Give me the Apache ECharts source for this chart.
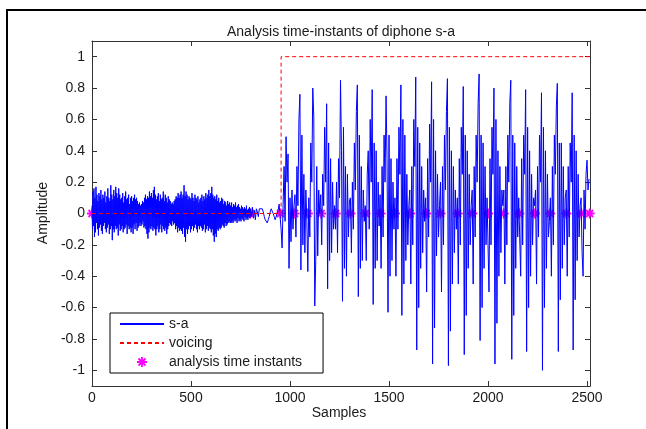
<!DOCTYPE html>
<html>
<head>
<meta charset="utf-8">
<script src="https://cdn.jsdelivr.net/npm/echarts@6/dist/echarts.min.js"></script>
<style>
html,body{margin:0;padding:0;background:#fff;}
#chart{width:646px;height:429px;}
</style>
</head>
<body>
<div id="chart"></div>
<script>
const xTicks = [0, 500, 1000, 1500, 2000, 2500];
const yTicks = [-1, -0.8, -0.6, -0.4, -0.2, 0, 0.2, 0.4, 0.6, 0.8, 1];
const lastSample = 2515;

// unvoiced noise (samples 0..797.5, every 2.5 samples)
const unvoicedStart = 0, unvoicedStep = 2.5;
const unvoicedValues = [
  0.05,-0.1,0.14,-0.08,0.16,-0.15,0.1,-0.12,0.17,-0.06,0.12,-0.1,0.08,-0.14,0.13,-0.09,0.11,-0.07,0.15,-0.11,
  0.09,-0.13,0.12,-0.08,0.1,-0.06,0.14,-0.1,0.07,-0.12,0.11,-0.09,0.16,-0.07,0.1,-0.13,0.08,-0.1,0.18,-0.08,
  0.12,-0.17,0.09,-0.1,0.15,-0.12,0.11,-0.08,0.17,-0.1,0.13,-0.09,0.1,-0.14,0.16,-0.07,0.12,-0.11,0.09,-0.1,
  0.1,-0.08,0.13,-0.12,0.07,-0.1,0.11,-0.09,0.14,-0.07,0.09,-0.13,0.1,-0.08,0.12,-0.1,0.06,-0.09,0.1,-0.12,
  0.11,-0.09,0.08,-0.13,0.1,-0.07,0.12,-0.1,0.09,-0.06,0.1,-0.11,0.08,-0.09,0.06,-0.08,0.07,-0.06,0.05,-0.08,
  0.06,-0.07,0.08,-0.05,0.07,-0.09,0.1,-0.08,0.12,-0.1,0.09,-0.13,0.11,-0.16,0.1,-0.12,0.14,-0.09,0.11,-0.1,
  0.13,-0.08,0.1,-0.11,0.15,-0.09,0.17,-0.1,0.12,-0.14,0.09,-0.1,0.11,-0.08,0.13,-0.12,0.08,-0.1,0.12,-0.07,
  0.09,-0.12,0.1,-0.08,0.14,-0.1,0.08,-0.11,0.12,-0.09,0.1,-0.13,0.07,-0.1,0.11,-0.08,0.09,-0.06,0.08,-0.07,
  0.06,-0.08,0.07,-0.05,0.06,-0.07,0.08,-0.06,0.09,-0.1,0.11,-0.08,0.1,-0.12,0.13,-0.09,0.1,-0.11,0.12,-0.1,
  0.14,-0.11,0.1,-0.13,0.12,-0.09,0.18,-0.15,0.11,-0.18,0.14,-0.1,0.12,-0.13,0.09,-0.1,0.11,-0.08,0.1,-0.12,
  0.09,-0.1,0.13,-0.08,0.1,-0.11,0.08,-0.09,0.12,-0.07,0.1,-0.1,0.09,-0.12,0.11,-0.08,0.07,-0.1,0.09,-0.08,
  0.1,-0.09,0.12,-0.11,0.08,-0.1,0.11,-0.07,0.09,-0.12,0.13,-0.1,0.1,-0.08,0.12,-0.11,0.15,-0.09,0.11,-0.1,
  0.13,-0.12,0.17,-0.1,0.12,-0.14,0.1,-0.18,0.11,-0.13,0.09,-0.15,0.12,-0.1,0.08,-0.11,0.1,-0.09,0.07,-0.1,
  0.08,-0.09,0.1,-0.07,0.09,-0.08,0.06,-0.09,0.08,-0.06,0.07,-0.08,0.05,-0.07,0.08,-0.06,0.06,-0.05,0.07,-0.06,
  0.05,-0.06,0.07,-0.05,0.04,-0.06,0.06,-0.04,0.05,-0.05,0.07,-0.04,0.04,-0.06,0.05,-0.03,0.06,-0.05,0.04,-0.04,
  0.03,-0.05,0.05,-0.03,0.04,-0.04,0.03,-0.05,0.04,-0.02,0.03,-0.04,0.05,-0.03,0.02,-0.04,0.03,-0.02,0.04,-0.03
];

// low-level transition before voicing (samples 800..950, every 5 samples)
const transitionStart = 800, transitionStep = 5;
const transitionValues = [
  0.03,-0.02,0.04,-0.03,0.02,-0.04,0.03,0.01,-0.02,0.03,0.02,0.04,0.03,0.01,-0.02,-0.04,
  -0.05,-0.06,-0.04,-0.02,0.01,0.03,0.02,0.0,-0.02,-0.04,-0.05,-0.03,0.02,0.06,0.07
];

// voiced part (from sample 955, every 5 samples), one row per pitch period
const voicedStart = 955, voicedStep = 5;
const voicedValues = [
  -0.1,-0.22,0.05,0.3,-0.05,0.49,0.2,0.38,-0.35,0.1,-0.18,0.15,-0.1,0.05,
  0.12,-0.15,0.3,0.05,0.6,0.76,-0.36,0.5,-0.2,0.25,-0.25,0.15,-0.05,
  -0.37,0.1,-0.15,0.45,0.2,0.8,0.62,-0.59,-0.3,0.3,-0.27,0.15,0.0,
  0.12,-0.2,0.25,0.05,0.55,0.2,0.7,-0.48,0.45,-0.3,0.35,-0.25,0.2,-0.1,0.05,
  -0.1,0.2,-0.25,0.35,0.1,0.85,0.4,-0.56,0.55,-0.35,0.3,-0.4,0.25,-0.15,0.08,
  0.1,-0.25,0.2,-0.1,0.45,0.15,0.65,0.82,-0.53,0.5,-0.35,0.3,-0.3,0.15,-0.05,
  0.05,-0.3,0.25,0.4,-0.1,0.6,0.2,0.79,-0.58,0.45,-0.35,0.4,-0.3,0.2,-0.08,
  0.12,-0.35,0.3,-0.15,0.5,0.2,0.75,0.35,-0.63,0.5,-0.4,0.35,-0.3,0.2,-0.1,
  0.1,-0.4,0.35,-0.1,0.55,0.25,0.82,-0.65,0.6,-0.45,0.5,-0.3,0.25,-0.2,0.05,
  0.15,-0.45,0.3,-0.2,0.6,0.3,0.87,-0.87,0.55,-0.6,0.45,-0.35,0.3,-0.25,0.15,-0.05,
  0.1,-0.5,0.35,-0.15,0.57,0.2,0.84,-0.96,0.6,-0.73,0.4,-0.27,0.25,-0.15,0.05,
  0.2,-0.5,0.3,-0.2,0.5,0.15,0.65,0.86,-0.97,0.55,-0.75,0.4,-0.45,0.3,-0.25,0.15,-0.1,
  0.1,-0.45,0.35,-0.2,0.55,0.25,0.81,-0.9,0.5,-0.65,0.4,-0.35,0.25,-0.2,0.05,
  0.15,-0.45,0.3,-0.15,0.5,0.2,0.7,0.89,-0.81,0.5,-0.6,0.45,-0.35,0.3,-0.2,0.1,
  0.1,-0.5,0.35,-0.2,0.55,0.25,0.8,-0.96,0.6,-0.7,0.4,-0.4,0.3,-0.25,0.15,0.05,
  0.15,-0.45,0.3,-0.2,0.5,0.2,0.7,0.85,-0.93,0.5,-0.65,0.45,-0.35,0.3,-0.15,0.1,
  0.1,-0.4,0.35,-0.2,0.5,0.25,0.79,-0.88,0.55,-0.6,0.4,-0.4,0.25,-0.2,0.1,0.05,
  0.15,-0.45,0.3,-0.15,0.5,0.2,0.77,-1.0,0.55,-0.6,0.4,-0.35,0.25,-0.15,-0.05,
  0.1,-0.4,0.3,-0.2,0.5,0.25,0.68,0.83,-0.88,0.45,-0.55,0.45,-0.35,0.3,-0.2,0.1,
  0.15,-0.4,0.3,-0.15,0.45,0.2,0.77,-0.87,0.5,-0.55,0.4,-0.3,0.25,-0.15,0.05,
  0.1,-0.25,-0.4,0.15,-0.1,0.25,0.34,0.15,0.22
];

const voicingSamples = [0, 955, 955, 2515];
const voicingValues = [0, 0, 1, 1];

const instantSamples = [0,160,320,480,640,800,952,1023,1090,1157,1231,1305,1381,1457,1530,1606,1688,1760,1847,1921,2000,2079,2158,2237,2314,2395,2471,2513];
const instantValues = instantSamples.map(() => 0);

const signal = []
  .concat(unvoicedValues.map((v, i) => [unvoicedStart + i * unvoicedStep, v]))
  .concat(transitionValues.map((v, i) => [transitionStart + i * transitionStep, v]))
  .concat(voicedValues.map((v, i) => [voicedStart + i * voicedStep, v]));
const voicing = voicingSamples.map((s, i) => [s, voicingValues[i]]);
const instants = instantSamples.map((s, i) => [s, instantValues[i]]);

const FONT = '"Liberation Sans", Arial, Helvetica, sans-serif';
const txt = '#1a1a1a';
const axisCol = '#333';
const star = 'path://M5,0L5,10M0,5L10,5M1.5,1.5L8.5,8.5M1.5,8.5L8.5,1.5';
const hidden = {color: 'rgba(0,0,0,0)', borderColor: 'rgba(0,0,0,0)', borderWidth: 0};

const chart = echarts.init(document.getElementById('chart'), null, {renderer: 'canvas'});

function xAx(pos, show) {
  return {
    type: 'value', position: pos, min: 0, max: lastSample,
    axisLine: {show: true, onZero: false, lineStyle: {color: axisCol, width: 1}},
    axisTick: {show: true, inside: true, length: 5, customValues: xTicks, lineStyle: {color: axisCol}},
    axisLabel: {show: show, customValues: xTicks, formatter: v => String(v), color: txt, fontSize: 14, fontFamily: FONT, margin: 5},
    splitLine: {show: false}
  };
}
function yAx(pos, show) {
  return {
    type: 'value', position: pos, min: -1.1, max: 1.1,
    axisLine: {show: true, onZero: false, lineStyle: {color: axisCol, width: 1}},
    axisTick: {show: true, inside: true, length: 5, customValues: yTicks, lineStyle: {color: axisCol}},
    axisLabel: {show: show, customValues: yTicks, formatter: v => String(v), color: txt, fontSize: 14, fontFamily: FONT, margin: 7},
    splitLine: {show: false}
  };
}

chart.setOption({
  animation: false,
  backgroundColor: '#fff',
  grid: {left: 92, right: 56, top: 41, bottom: 43, containLabel: false},
  xAxis: [xAx('bottom', true), xAx('top', false)],
  yAxis: [yAx('left', true), yAx('right', false)],
  legend: {
    orient: 'vertical', left: 110, top: 313,
    itemWidth: 44, itemHeight: 10, itemGap: 5,
    padding: [4, 21, 4, 9],
    backgroundColor: '#fff', borderColor: '#000', borderWidth: 1, borderRadius: 0,
    textStyle: {color: txt, fontSize: 14, fontFamily: FONT, lineHeight: 14},
    data: [
      {name: 's-a', itemStyle: hidden},
      {name: 'voicing', itemStyle: hidden},
      {name: 'analysis time instants', itemStyle: {color: 'rgba(0,0,0,0)', borderColor: '#ff00ff', borderWidth: 1.8}}
    ]
  },
  graphic: [
    {type: 'line', shape: {x1: 7, y1: 9, x2: 7, y2: 429}, style: {stroke: '#000', lineWidth: 2}},
    {type: 'line', shape: {x1: 6, y1: 10, x2: 646, y2: 10}, style: {stroke: '#000', lineWidth: 2}},
    {type: 'text', x: 341, y: 32, style: {text: 'Analysis time-instants of diphone s-a', fill: txt, font: '14px ' + FONT, textAlign: 'center', textVerticalAlign: 'middle'}},
    {type: 'text', x: 339, y: 413, style: {text: 'Samples', fill: txt, font: '14px ' + FONT, textAlign: 'center', textVerticalAlign: 'middle'}},
    {type: 'text', x: 43, y: 213, rotation: Math.PI / 2, style: {text: 'Amplitude', fill: txt, font: '14px ' + FONT, textAlign: 'center', textVerticalAlign: 'middle'}}
  ],
  series: [
    {
      name: 's-a', type: 'line', data: signal,
      symbol: 'none', showSymbol: false, sampling: null,
      lineStyle: {color: '#0000ff', width: 1}, itemStyle: {color: '#0000ff'}
    },
    {
      name: 'voicing', type: 'line', data: voicing,
      symbol: 'none', showSymbol: false,
      lineStyle: {color: '#ff0000', width: 1, type: [4, 3]}, itemStyle: {color: '#ff0000'}
    },
    {
      name: 'analysis time instants', type: 'scatter', data: instants,
      symbol: star, symbolSize: 10,
      itemStyle: {color: 'rgba(0,0,0,0)', borderColor: '#ff00ff', borderWidth: 1.8, opacity: 1}
    }
  ]
});
</script>
</body>
</html>
